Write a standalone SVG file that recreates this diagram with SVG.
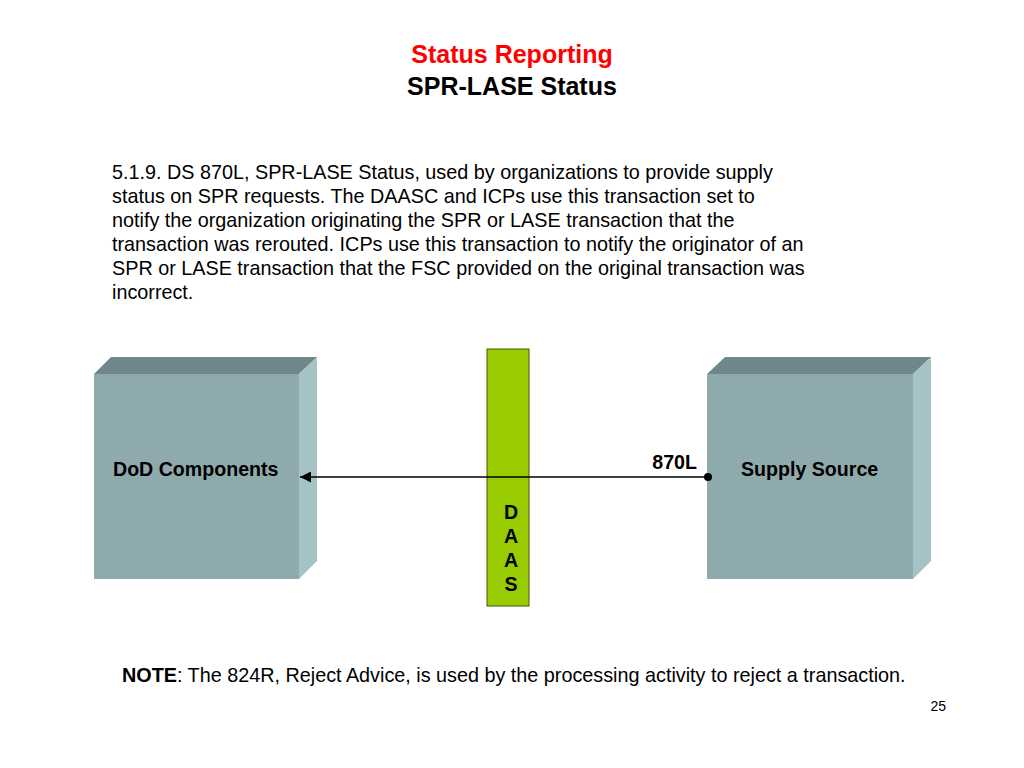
<svg xmlns="http://www.w3.org/2000/svg" width="1024" height="768" viewBox="0 0 1024 768">
<defs>
<style>
text{font-family:"Liberation Sans",Arial,sans-serif;fill:#000}
.b{font-weight:bold}
.front{fill:#8FAAAC}
.top{fill:#6F8789}
.side{fill:#A5C3C5}
.body{font-size:19.8px}
.lbl{font-size:19.6px;font-weight:bold}
</style>
<marker id="arr" viewBox="0 0 10 10" refX="10" refY="5" markerWidth="12" markerHeight="11" markerUnits="userSpaceOnUse" orient="auto">
<path d="M0,0 L10,5 L0,10 z" fill="#000"/>
</marker>
</defs>
<rect width="1024" height="768" fill="#fff"/>
<text x="512" y="63" text-anchor="middle" class="b" style="font-size:25px;fill:#FF0000">Status Reporting</text>
<text x="512" y="95" text-anchor="middle" class="b" style="font-size:25px">SPR-LASE Status</text>
<g id="description" class="body">
<text x="112" y="179">5.1.9. DS 870L, SPR-LASE Status, used by organizations to provide supply</text>
<text x="112" y="203">status on SPR requests. The DAASC and ICPs use this transaction set to</text>
<text x="112" y="227">notify the organization originating the SPR or LASE transaction that the</text>
<text x="112" y="251">transaction was rerouted. ICPs use this transaction to notify the originator of an</text>
<text x="112" y="275">SPR or LASE transaction that the FSC provided on the original transaction was</text>
<text x="112" y="299">incorrect.</text>
</g>
<g id="dod">
<polygon class="top" points="94,374 111,357 317,357 299,374"/>
<polygon class="side" points="299,374 317,357 317,561 299,579"/>
<rect class="front" x="94" y="374" width="205" height="205"/>
<text x="113" y="476" class="lbl">DoD Components</text>
</g>
<g id="supply">
<polygon class="top" points="707,374 725,357 931,357 913,374"/>
<polygon class="side" points="913,374 931,357 931,561 913,579"/>
<rect class="front" x="707" y="374" width="206" height="205"/>
<text x="741" y="476" class="lbl">Supply Source</text>
</g>
<g id="daas">
<rect x="487" y="349" width="42" height="257" fill="#99CC00" stroke="#3F5A00" stroke-width="1"/>
<text x="511" y="519" text-anchor="middle" class="lbl">D</text>
<text x="511" y="543" text-anchor="middle" class="lbl">A</text>
<text x="511" y="567" text-anchor="middle" class="lbl">A</text>
<text x="511" y="591" text-anchor="middle" class="lbl">S</text>
</g>
<g id="connectors">
<line x1="708" y1="477" x2="300" y2="477" stroke="#000" stroke-width="1.5" marker-end="url(#arr)"/>
<circle cx="708" cy="477" r="4" fill="#000"/>
<text x="697" y="469" text-anchor="end" class="lbl">870L</text>
</g>
<text x="122" y="682" style="font-size:19.8px"><tspan class="b">NOTE</tspan>: The 824R, Reject Advice, is used by the processing activity to reject a transaction.</text>
<text x="946" y="711" text-anchor="end" style="font-size:14px">25</text>
</svg>
